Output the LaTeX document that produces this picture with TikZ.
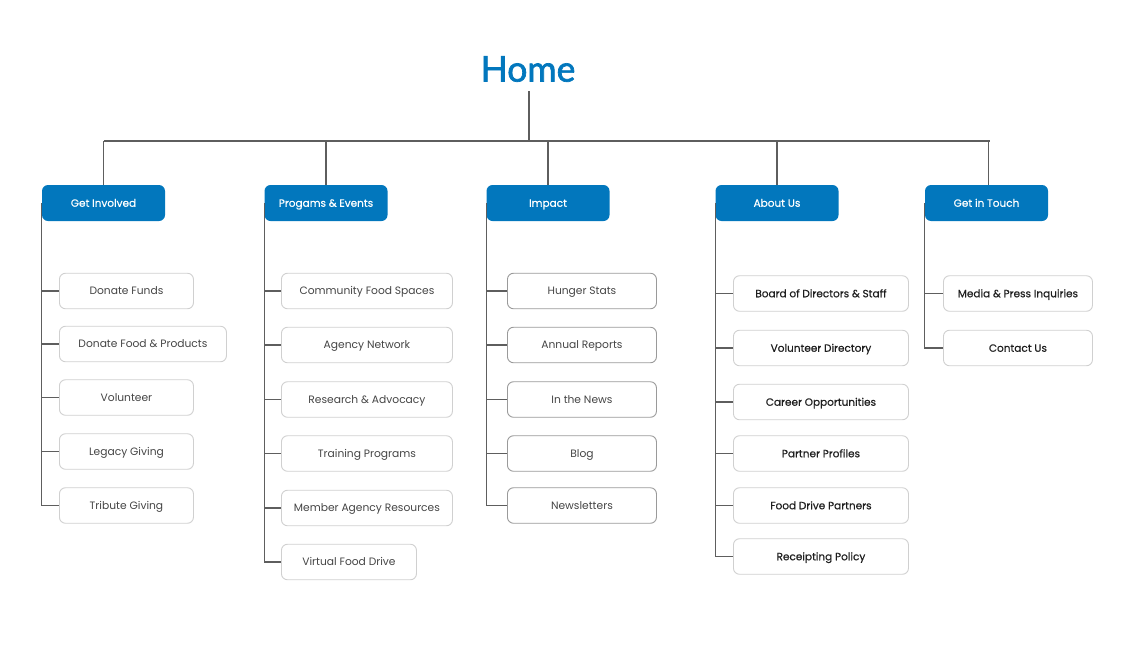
\documentclass[tikz,border=0pt]{standalone}
\usepackage{fontspec}
\setmainfont{Poppins}
\newfontfamily\homefont[FakeBold=2]{Lato}
\newfontfamily\hdrfont[FakeBold=0.4]{Poppins}
\definecolor{hblue}{HTML}{0277BD}
\definecolor{lgray}{HTML}{5E5E5E}
\definecolor{bgray}{HTML}{D0D0D0}
\definecolor{dgray}{HTML}{9A9A9A}
\definecolor{tgray}{HTML}{454545}
\definecolor{tdark}{HTML}{1E1E1E}
\tikzset{
  hdr/.style={rectangle, rounded corners=6pt, fill=hblue, text=white,
    minimum width=123pt, minimum height=36pt, inner sep=0pt,
    text height=9pt, text depth=1.5pt,
    font=\hdrfont\fontsize{10.5}{12}\selectfont},
  child/.style={rectangle, rounded corners=6pt, draw=bgray, line width=0.9pt,
    fill=white, minimum height=35.5pt, inner sep=0pt, anchor=west, text=tgray,
    text height=9pt, text depth=1.5pt,
    font=\fontsize{10.7}{12}\selectfont},
  childd/.style={child, draw=dgray},
  childk/.style={child, draw=bgray, text=tdark, font=\hdrfont\fontsize{10.5}{12}\selectfont},
  conn/.style={draw=lgray, line width=1.3pt},
}
\begin{document}
\begin{tikzpicture}[x=1pt,y=-1pt]
\useasboundingbox (0,0) rectangle (1135,648);
% Home
\node[text=hblue, font=\homefont\fontsize{35.5}{40}\selectfont, inner sep=0pt] (home) at (528,69) {Home};
\coordinate (hb) at (529,141);
% headers
\node[hdr] (gi) at (103.5,203) {Get Involved};
\node[hdr] (pe) at (326,203) {Progams \& Events};
\node[hdr] (im) at (548,203) {Impact};
\node[hdr] (au) at (777,203) {About Us};
\node[hdr] (gt) at (986.5,203) {Get in Touch};
% bus
\draw[conn] (529,91) -- (hb);
\draw[conn] ([xshift=0.5pt]gi.north |- hb) -- ([xshift=3pt]gt.north |- hb);
\foreach \h in {gi,pe,im,au}{\draw[conn] (\h.north |- hb) -- (\h.north);}
\draw[conn] ([xshift=2pt]gt.north |- hb) -- ([xshift=2pt]gt.north);
% Get Involved children
\node[child, minimum width=134pt] (gi1) at (59,291) {Donate Funds};
\node[child, minimum width=167pt] (gi2) at (59,344) {Donate Food \& Products};
\node[child, minimum width=134pt] (gi3) at (59,397.5) {Volunteer};
\node[child, minimum width=134pt] (gi4) at (59,451.5) {Legacy Giving};
\node[child, minimum width=134pt] (gi5) at (59,505.5) {Tribute Giving};
% Programs children
\node[child, minimum width=171pt] (pe1) at (281,291) {Community Food Spaces};
\node[child, minimum width=171pt] (pe2) at (281,345) {Agency Network};
\node[child, minimum width=171pt] (pe3) at (281,399.5) {Research \& Advocacy};
\node[child, minimum width=171pt] (pe4) at (281,453.5) {Training Programs};
\node[child, minimum width=171pt] (pe5) at (281,508) {Member Agency Resources};
\node[child, minimum width=135pt] (pe6) at (281,562) {Virtual Food Drive};
% Impact children
\node[childd, minimum width=149pt] (im1) at (507,291) {Hunger Stats};
\node[childd, minimum width=149pt] (im2) at (507,345) {Annual Reports};
\node[childd, minimum width=149pt] (im3) at (507,399.5) {In the News};
\node[childd, minimum width=149pt] (im4) at (507,453.5) {Blog};
\node[childd, minimum width=149pt] (im5) at (507,505.5) {Newsletters};
% About Us children
\node[childk, minimum width=175pt] (au1) at (733,293.5) {Board of Directors \& Staff};
\node[childk, minimum width=175pt] (au2) at (733,348) {Volunteer Directory};
\node[childk, minimum width=175pt] (au3) at (733,402) {Career Opportunities};
\node[childk, minimum width=175pt] (au4) at (733,453.5) {Partner Profiles};
\node[childk, minimum width=175pt] (au5) at (733,505.5) {Food Drive Partners};
\node[childk, minimum width=175pt] (au6) at (733,556.5) {Receipting Policy};
% Get in Touch children
\node[childk, minimum width=149pt] (gt1) at (943,293.5) {Media \& Press Inquiries};
\node[childk, minimum width=149pt] (gt2) at (943,348) {Contact Us};
% branch connectors
\draw[conn] (gi.west) |- (gi5.west);
\foreach \c in {gi1,gi2,gi3,gi4}{\draw[conn] (gi.west |- \c.west) -- (\c.west);}
\draw[conn] (pe.west) |- (pe6.west);
\foreach \c in {pe1,pe2,pe3,pe4,pe5}{\draw[conn] (pe.west |- \c.west) -- (\c.west);}
\draw[conn] (im.west) |- (im5.west);
\foreach \c in {im1,im2,im3,im4}{\draw[conn] (im.west |- \c.west) -- (\c.west);}
\draw[conn] (au.west) |- (au6.west);
\foreach \c in {au1,au2,au3,au4,au5}{\draw[conn] (au.west |- \c.west) -- (\c.west);}
\draw[conn] (gt.west) |- (gt2.west);
\draw[conn] (gt.west |- gt1.west) -- (gt1.west);
\end{tikzpicture}
\end{document}
